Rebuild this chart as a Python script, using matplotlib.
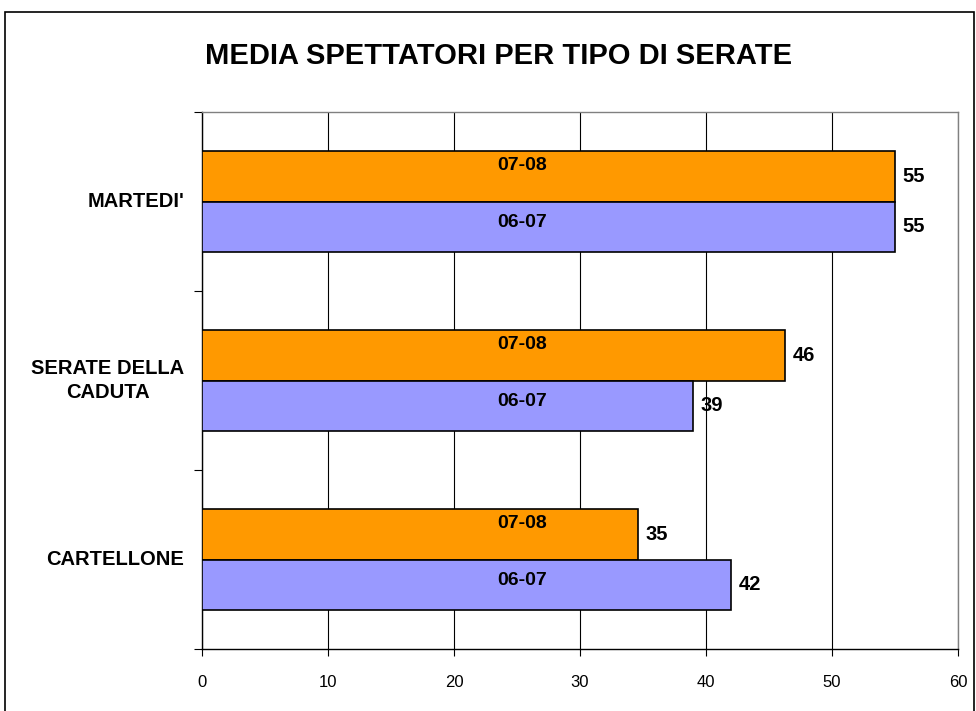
import matplotlib.pyplot as plt
from matplotlib.patches import Rectangle

plt.rcParams["font.family"] = ["Liberation Sans", "DejaVu Sans"]

# categories listed bottom -> top
categories = ["CARTELLONE", "SERATE DELLA\nCADUTA", "MARTEDI'"]
series_names = ["07-08", "06-07"]
val_0708 = [34.6, 46.3, 55.0]
val_0607 = [42.0, 39.0, 55.0]
colors = ["#FF9900", "#9999FF"]

fig = plt.figure(figsize=(9.76, 7.11), dpi=100)
fig.patch.set_facecolor("white")

# outer chart border
fig.patches.append(Rectangle((5 / 976, -0.01), 969 / 976, 1 - 12 / 711 + 0.01,
                             transform=fig.transFigure, fill=False,
                             edgecolor="black", linewidth=1.2))

ax = fig.add_axes([202 / 976, 62 / 711, 756 / 976, 537 / 711])

h = 0.282
centers = [i + 0.5 for i in range(len(categories))]
for vals, name, col, off, lab_dy in [(val_0708, series_names[0], colors[0], h / 2, 0.06),
                                     (val_0607, series_names[1], colors[1], -h / 2, 0.025)]:
    ys = [c + off for c in centers]
    ax.barh(ys, vals, height=h, color=col, edgecolor="black", linewidth=1.2, zorder=3)
    for y, v in zip(ys, vals):
        ax.text(v + 0.6, y, f"{v:.0f}", ha="left", va="center",
                fontsize=14.5, fontweight="bold", zorder=4)
        ax.text(25.4, y + lab_dy, name, ha="center", va="center",
                fontsize=14, fontweight="bold", zorder=4)

ax.set_xlim(0, 60)
ax.set_ylim(0, 3)
ax.set_xticks(range(0, 61, 10))
ax.set_yticks([0, 1, 2, 3])
ax.set_yticklabels([])
ax.grid(axis="x", color="black", linewidth=0.8, zorder=0)

for c, lab in zip(centers, categories):
    ax.text(-1.4, c, lab, ha="right", va="center", ma="center",
            fontsize=14.5, fontweight="bold", linespacing=1.4)

ax.spines["top"].set_color("#808080")
ax.spines["right"].set_color("#808080")
ax.spines["left"].set_color("black")
ax.spines["bottom"].set_color("black")
for s in ax.spines.values():
    s.set_linewidth(1.0)
ax.tick_params(axis="x", length=5, width=0.8, pad=14, labelsize=12)
ax.tick_params(axis="y", length=6, width=0.8)

fig.text(499 / 976, 1 - 56 / 711, "MEDIA SPETTATORI PER TIPO DI SERATE",
         ha="center", va="center", fontsize=21, fontweight="bold")

fig.savefig("out.png", dpi=100)
